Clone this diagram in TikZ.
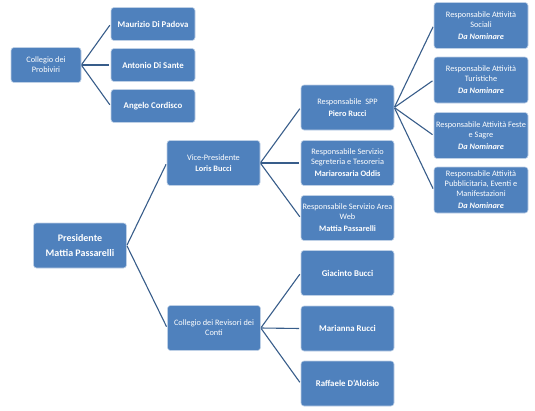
\documentclass[tikz,border=0pt]{standalone}
\usepackage{fontspec}
\setmainfont{Carlito}
\definecolor{BoxBlue}{RGB}{79,129,189}
\definecolor{BoxEdge}{RGB}{190,208,230}
\definecolor{LinkNavy}{RGB}{56,93,138}
\usetikzlibrary{positioning}

\begin{document}
\begin{tikzpicture}[x=1pt, y=-1pt, font=\fontsize{8.3}{10}\selectfont,
	cella/.style={rectangle, rounded corners=3pt, draw=BoxEdge, line width=0.6pt,
		fill=BoxBlue, text=white, minimum width=93pt, minimum height=45pt,
		align=center, inner sep=1pt},
	piccola/.style={cella, minimum width=84pt, minimum height=33pt},
	nome/.style={cella, font=\fontsize{8.8}{10}\selectfont\bfseries},
	ramo/.style={draw=LinkNavy, line width=1.1pt, shorten >=1.5pt, shorten <=0.5pt}]

	\useasboundingbox (0,0) rectangle (535,410);

	% collegio dei probiviri
	\node[cella, minimum width=70pt, minimum height=35pt] (prob) at (46,65)
		{Collegio dei\\Probiviri};
	\node[piccola, font=\fontsize{8.8}{10}\selectfont\bfseries] (maur) at (153,24) {Maurizio Di Padova};
	\node[piccola, font=\fontsize{8.8}{10}\selectfont\bfseries] (anto) at (153,65) {Antonio Di Sante};
	\node[piccola, font=\fontsize{8.8}{10}\selectfont\bfseries] (ange) at (153,106) {Angelo Cordisco};

	% presidente e vice
	\node[cella, font=\fontsize{10}{15}\selectfont\bfseries] (pres) at (80,245.5)
		{Presidente\\Mattia Passarelli};
	\node[cella] (vice) at (213.5,163) {Vice-Presidente\\[1pt]\textbf{Loris Bucci}};
	\node[cella] (revi) at (214,328) {Collegio dei Revisori dei\\Conti};

	% responsabili
	\node[cella] (spp) at (347.5,107.5) {Responsabile\ \ SPP\\[2pt]\textbf{Piero Rucci}};
	\node[cella] (segr) at (347.5,163)
		{Responsabile Servizio\\Segreteria e Tesoreria\\[2pt]\textbf{Mariarosaria Oddis}};
	\node[cella] (web) at (347.5,218)
		{Responsabile Servizio Area\\Web\\[2pt]\textbf{Mattia Passarelli}};

	% revisori
	\node[nome] (giac) at (347.5,273) {Giacinto Bucci};
	\node[nome] (mari) at (347.5,328.5) {Marianna Rucci};
	\node[nome] (raff) at (347.5,383.5) {Raffaele D'Aloisio};

	% attivita
	\node[cella, minimum width=94pt, minimum height=46pt] (soc) at (481,25.5)
		{Responsabile Attività\\Sociali\\[2pt]\textbf{\textit{Da Nominare}}};
	\node[cella, minimum width=94pt, minimum height=46pt] (tur) at (481,80)
		{Responsabile Attività\\Turistiche\\[2pt]\textbf{\textit{Da Nominare}}};
	\node[cella, minimum width=94pt, minimum height=46pt] (fest) at (481,135.5)
		{Responsabile Attività Feste\\e Sagre\\[2pt]\textbf{\textit{Da Nominare}}};
	\node[cella, minimum width=94pt, minimum height=46pt] (pubb) at (481,190)
		{Responsabile Attività\\Pubblicitaria, Eventi e\\Manifestazioni\\[2pt]\textbf{\textit{Da Nominare}}};

	\draw[ramo] (prob.east) -- (maur.west);
	\draw[ramo] (prob.east) -- (anto.west);
	\draw[ramo] (prob.east) -- (ange.west);
	\draw[ramo] (pres.east) -- (vice.west);
	\draw[ramo] (pres.east) -- (revi.west);
	\draw[ramo] (vice.east) -- (spp.west);
	\draw[ramo] (vice.east) -- (segr.west);
	\draw[ramo] (vice.east) -- (web.west);
	\draw[ramo] (revi.east) -- (giac.west);
	\draw[ramo] (revi.east) -- (mari.west);
	\draw[ramo] (revi.east) -- (raff.west);
	\draw[ramo] (spp.east) -- (soc.west);
	\draw[ramo] (spp.east) -- (tur.west);
	\draw[ramo] (spp.east) -- (fest.west);
	\draw[ramo] (spp.east) -- (pubb.west);
\end{tikzpicture}
\end{document}
